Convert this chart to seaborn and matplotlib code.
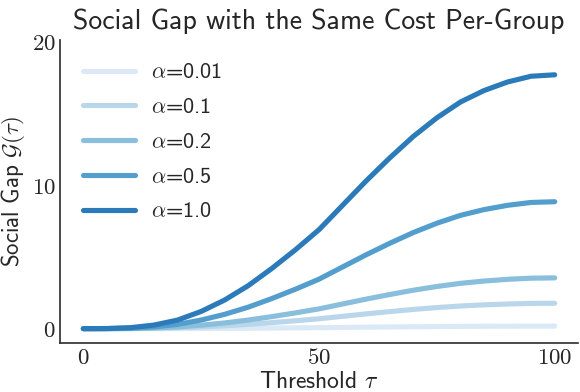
import numpy as np
import pandas as pd
import matplotlib
matplotlib.use("Agg")
import matplotlib.pyplot as plt
import seaborn as sns
from matplotlib.ticker import FuncFormatter

# threshold values (x axis)
tau = [0, 5, 10, 15, 20, 25, 30, 35, 40, 45, 50, 55, 60, 65, 70, 75, 80, 85, 90, 95, 100]

alphas = ["0.01", "0.1", "0.2", "0.5", "1.0"]

# social gap, one list per alpha
gap_001 = [0, 0, 0, 0, 0.006, 0.012, 0.02, 0.03, 0.042, 0.055, 0.069, 0.086, 0.103, 0.119, 0.134, 0.147, 0.158, 0.166, 0.172, 0.176, 0.177]
gap_01 = [0, 0, 0.007, 0.025, 0.06, 0.12, 0.2, 0.3, 0.42, 0.55, 0.69, 0.86, 1.03, 1.19, 1.34, 1.47, 1.58, 1.66, 1.72, 1.76, 1.77]
gap_02 = [0, 0, 0.014, 0.05, 0.12, 0.24, 0.4, 0.6, 0.84, 1.1, 1.38, 1.72, 2.06, 2.38, 2.68, 2.94, 3.16, 3.32, 3.44, 3.52, 3.54]
gap_05 = [0, 0.005, 0.035, 0.12, 0.3, 0.6, 1.0, 1.5, 2.1, 2.75, 3.45, 4.3, 5.15, 5.95, 6.7, 7.35, 7.9, 8.3, 8.6, 8.8, 8.85]
gap_10 = [0, 0.01, 0.07, 0.25, 0.6, 1.2, 2.0, 3.0, 4.2, 5.5, 6.9, 8.6, 10.3, 11.9, 13.4, 14.7, 15.8, 16.6, 17.2, 17.6, 17.7]

series = [gap_001, gap_01, gap_02, gap_05, gap_10]

rows = []
for a, vals in zip(alphas, series):
    for t, g in zip(tau, vals):
        rows.append({"tau": t, "gap": g, "alpha": r"$\alpha$=" + a})
df = pd.DataFrame(rows)

sns.set_theme(style="white")
plt.rcParams["font.family"] = ["cmss10", "DejaVu Sans"]
plt.rcParams["mathtext.fontset"] = "cm"
plt.rcParams["axes.unicode_minus"] = False

fig = plt.figure(figsize=(5.8, 3.92), dpi=100)
ax = fig.add_axes([0.103, 0.125, 0.894, 0.772])

# seaborn's default 6-step Blues, first five shades
palette = sns.color_palette("Blues")[:5]
sns.lineplot(data=df, x="tau", y="gap", hue="alpha", palette=palette,
             linewidth=3.7, ax=ax, solid_capstyle="round")

ax.set_xlim(-5, 105)
ax.set_ylim(-1, 20.1)
ax.set_xticks([0, 50, 100])
ax.set_yticks([0, 10, 20])
fmt = FuncFormatter(lambda v, p: f"${v:g}$")
ax.xaxis.set_major_formatter(fmt)
ax.yaxis.set_major_formatter(fmt)
ax.tick_params(labelsize=16.5, colors="#262626", length=0, pad=3)

sns.despine(ax=ax)
for s in ["left", "bottom"]:
    ax.spines[s].set_color("#333333")

ax.set_title("Social Gap with the Same Cost Per-Group", fontsize=20, color="#262626", pad=8)
ax.set_xlabel(r"Threshold $\tau$", fontsize=17, color="#262626", labelpad=1)
ax.set_ylabel(r"Social Gap $\mathcal{G}(\tau)$", fontsize=16.5, color="#262626", labelpad=3)

leg = ax.legend(loc="upper left", frameon=False, fontsize=16, handlelength=2.3,
                handletextpad=0.75, labelspacing=0.68, borderaxespad=0.2,
                bbox_to_anchor=(0.02, 0.97))
for line in leg.get_lines():
    line.set_linewidth(3.7)
    line.set_solid_capstyle("round")

fig.savefig("out.png", dpi=100)
